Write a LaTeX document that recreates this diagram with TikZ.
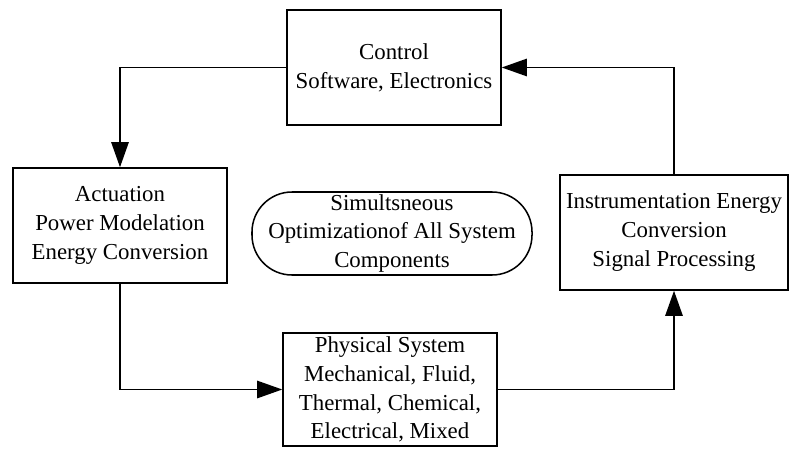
\documentclass[tikz,border=0pt]{standalone}
\usepackage{fontspec}
\setmainfont{Liberation Serif}
\usetikzlibrary{arrows.meta}

\tikzset{
  boite/.style={draw, line width=1.3pt, align=center, inner sep=2pt,
    font=\fontsize{19.5}{24.5}\selectfont},
  fleche/.style={line width=1.3pt, -{Triangle[length=7.5mm,width=5.2mm]}}
}

\begin{document}
\begin{tikzpicture}[x=0.03cm,y=-0.03cm]

  \useasboundingbox (0,0) rectangle (790,451);

% Boites

  \node[boite, minimum width=6.42cm, minimum height=3.45cm] (control) at (394,67.5)
    {Control\\Software, Electronics};
  \node[boite, minimum width=6.42cm, minimum height=3.45cm] (actuation) at (120,225.5)
    {Actuation\\Power Modelation\\Energy Conversion};
  \node[boite, minimum width=6.84cm, minimum height=3.45cm] (instrument) at (674,232.5)
    {Instrumentation Energy\\Conversion\\Signal Processing};
  \node[boite, minimum width=6.42cm, minimum height=3.39cm] (physical) at (390,389.5)
    {Physical System\\Mechanical, Fluid,\\Thermal, Chemical,\\Electrical, Mixed};

% Optimisation (au centre)

  \node[boite, rounded corners=1.2cm, minimum width=8.4cm, minimum height=2.49cm] (optim) at (392,233.5)
    {Simultsneous\\Optimizationof All System\\Components};

% Fleches

  \draw[fleche] (control.west) -| (actuation.north);
  \draw[fleche] (actuation.south) |- (physical.west);
  \draw[fleche] (physical.east) -| (instrument.south);
  \draw[fleche] (instrument.north) |- (control.east);

\end{tikzpicture}
\end{document}
